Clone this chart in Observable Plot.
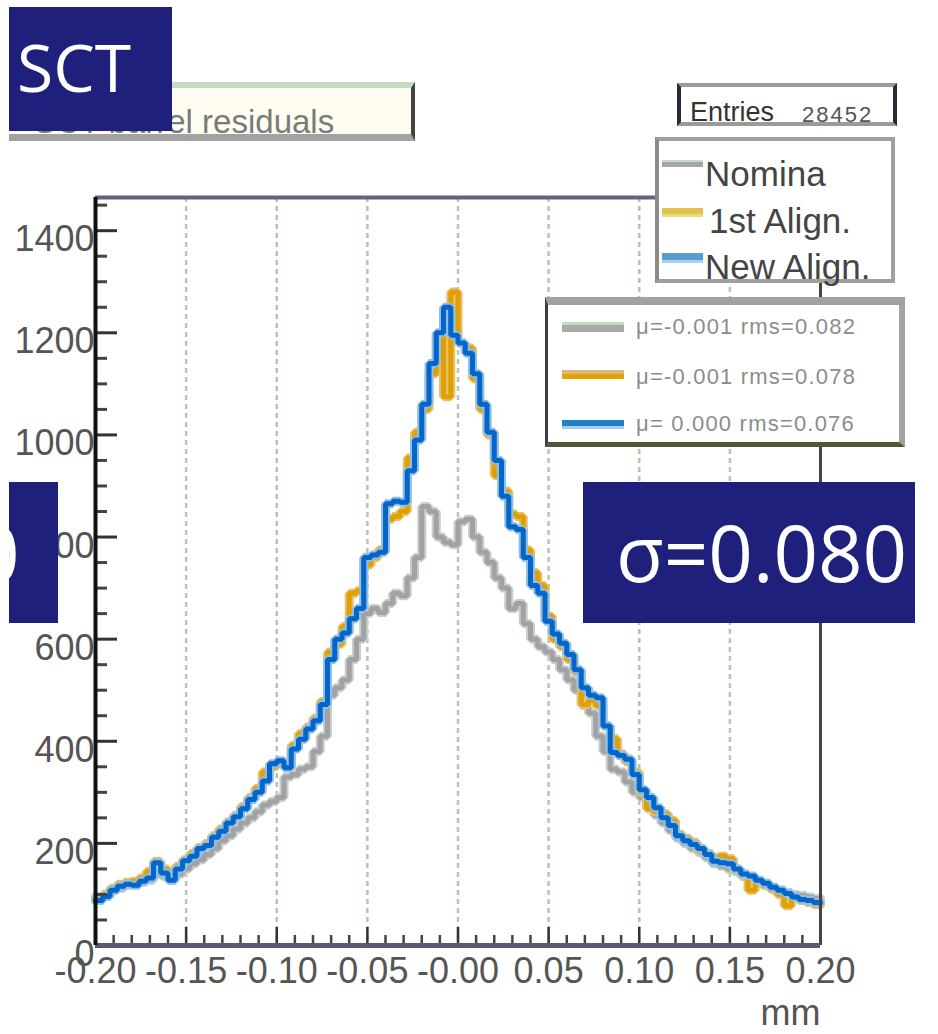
<!DOCTYPE html>
<html><head><meta charset="utf-8">
<script src="https://cdn.jsdelivr.net/npm/d3@7"></script>
<script src="https://cdn.jsdelivr.net/npm/@observablehq/plot@0.6"></script>
<style>
body{margin:0;background:#fff;}
#wrap{position:relative;width:938px;height:1034px;overflow:hidden;font-family:"Liberation Sans",Arial,sans-serif;}
#wrap svg{position:absolute;left:0;top:0;}
.abs{position:absolute;box-sizing:border-box;}
.navy{background:#1f1f7c;overflow:hidden;}
.big{font-family:"Open Sans",sans-serif;color:#fff;line-height:1;white-space:nowrap;position:absolute;}
.t{position:absolute;line-height:1;white-space:nowrap;}
</style></head><body>
<div id="wrap">
  <div class="abs" style="left:9px;top:82px;width:406px;height:59px;background:#fffdf1;border-top:6px solid #c4dcc4;border-right:4px solid #444;border-bottom:7px solid #a2a2a2;overflow:hidden;">
    <span class="t" style="left:25px;top:17px;font-size:33px;color:#7a7a7a;">SCT barrel residuals</span>
  </div>
  <div class="abs navy" style="left:9px;top:7px;width:163px;height:124px;">
    <span class="big" style="left:8px;top:26px;font-size:66px;">SCT</span>
  </div>
  <div class="abs" style="left:677px;top:83px;width:220px;height:43px;background:#fff;border-left:4px solid #2a2a3a;border-right:4px solid #2a2a3a;border-top:4px solid #9a9a9a;border-bottom:4px solid #9a9a9a;"></div>
  <span class="t" style="left:690px;top:99px;font-size:27px;color:#333;">Entries</span>
  <span class="t" style="left:802px;top:104px;font-size:22px;letter-spacing:2px;color:#555;">28452</span>

  <div class="abs" style="left:655px;top:137px;width:240px;height:146px;background:#fff;border:4px solid #a0a0a0;border-left-color:#8a8a8a;"></div>
  <div class="abs" style="left:662px;top:160px;width:41px;height:7px;background:#a6a6a6;border-top:2px solid #c4dcc4;"></div>
  <div class="abs" style="left:662px;top:208px;width:41px;height:9px;background:#e2c24a;border-bottom:3px solid #e4e080;"></div>
  <div class="abs" style="left:662px;top:253px;width:41px;height:10px;background:#5a9ccc;border-bottom:3px solid #a8d0f4;"></div>
  <span class="t" style="left:705px;top:156px;font-size:35px;color:#444;">Nomina</span>
  <span class="t" style="left:709px;top:203px;font-size:35px;color:#444;">1st Align.</span>
  <span class="t" style="left:705px;top:249px;font-size:35px;color:#444;">New Align.</span>

  <div class="abs" style="left:545px;top:297px;width:360px;height:150px;background:#fff;border-top:8px solid #a2a2a2;border-left:3px solid #3a3a48;border-bottom:5px solid #55553a;border-right:6px solid #a2a2a2;"></div>
  <div class="abs" style="left:562px;top:322px;width:62px;height:10px;background:#a8a8a8;border-top:3px solid #c4dcc4;"></div>
  <div class="abs" style="left:562px;top:370px;width:62px;height:9px;background:#e2a400;border-top:4px solid #dcb878;"></div>
  <div class="abs" style="left:562px;top:420px;width:62px;height:9px;background:#1e80c8;border-bottom:3px solid #a8ccf0;"></div>
  <span class="t" style="left:636px;top:316px;font-size:22px;letter-spacing:1.2px;color:#8c8c8c;">μ=-0.001 rms=0.082</span>
  <span class="t" style="left:636px;top:366px;font-size:22px;letter-spacing:1.2px;color:#8c8c8c;">μ=-0.001 rms=0.078</span>
  <span class="t" style="left:636px;top:413px;font-size:22px;letter-spacing:1.2px;color:#8c8c8c;">μ= 0.000 rms=0.076</span>

  <div class="abs navy" style="left:583px;top:482px;width:332px;height:141px;">
    <span class="big" style="left:33px;top:31px;font-size:78px;">σ=0.080</span>
  </div>
  <div class="abs navy" style="left:9px;top:482px;width:49px;height:141px;">
    <span class="big" style="left:-34px;top:31px;font-size:78px;">0</span>
  </div>
</div>
<script>
// ---- data (bins of 0.004 mm from -0.20 to 0.20) ----
const xMin = -0.2, xMax = 0.2, nBins = 100;
const nominal = [95,100,108,112,118,120,124,128,140,136,
  130,140,150,160,168,178,190,205,215,228,
  240,250,262,275,282,290,330,335,345,350,
  380,410,490,505,520,560,600,650,660,652,
  670,690,685,720,760,860,850,800,790,785,
  830,835,800,770,750,720,700,660,670,630,
  600,585,575,560,540,520,500,470,455,410,
  380,345,340,320,300,290,275,255,240,225,
  210,200,190,182,172,160,155,150,145,135,
  128,122,118,112,108,104,100,98,95,92];
const firstAlign = [92,100,112,120,124,126,132,145,165,150,
  140,155,168,180,192,200,215,228,242,255,
  272,290,308,340,350,358,352,392,415,428,
  445,478,575,590,625,690,695,745,760,775,
  835,840,850,955,1005,1050,1120,1195,1075,1280,
  1180,1170,1110,1050,1000,920,890,845,840,775,
  730,705,645,600,585,560,535,472,480,470,
  430,405,375,360,340,300,268,262,258,245,
  218,210,202,185,180,172,175,170,148,138,
  108,124,118,110,100,78,92,88,84,80];
const newAlign = [88,96,108,116,120,118,126,132,162,142,
  128,150,166,175,190,196,212,224,240,252,
  268,286,300,322,356,362,348,385,404,424,
  440,472,560,600,612,640,660,760,765,770,
  865,870,868,930,990,1060,1140,1200,1250,1195,
  1180,1160,1120,1060,1005,950,880,820,815,760,
  705,690,635,610,592,570,540,505,490,485,
  430,378,372,365,335,305,290,270,250,235,
  215,205,198,190,178,165,162,160,150,140,
  136,128,122,114,108,102,95,90,88,84];

const xTickValues = [-0.2,-0.15,-0.1,-0.05,0,0.05,0.1,0.15,0.2];
const xTickLabels = ["-0.20","-0.15","-0.10","-0.05","-0.00","0.05","0.10","0.15","0.20"];
const yTickValues = [0,200,400,600,800,1000,1200,1400];
const yTickLabels = ["0","200","400","600","800","1000","1200","1400"];
const gridValues = [-0.15,-0.1,-0.05,0,0.05,0.1,0.15];

// ---- build step tables ----
const binW = (xMax - xMin) / nBins;
function steps(vals, name) {
  const pts = vals.map((v, i) => ({x: xMin + i * binW, y: v, s: name}));
  pts.push({x: xMax, y: vals[vals.length - 1], s: name});
  return pts;
}
const gData = steps(nominal, "Nominal");
const oData = steps(firstAlign, "1st Align.");
const bData = steps(newAlign, "New Align.");

const yMinor = d3.range(50, 1500, 50).filter(v => v % 200 !== 0);
const xMinor = d3.range(-20, 21, 1).filter(v => v % 5 !== 0).map(v => v / 100);

const W = 938, H = 1034, mT = 197, mB = 89, mL = 95, mR = 118;
const fw = W - mL - mR, fh = H - mT - mB;

const chart = Plot.plot({
  width: W, height: H,
  marginTop: mT, marginBottom: mB, marginLeft: mL, marginRight: mR,
  x: {domain: [xMin, xMax], axis: null},
  y: {domain: [0, 1465], axis: null},
  style: {fontFamily: "'Liberation Sans', Arial, sans-serif", background: "transparent", overflow: "visible"},
  marks: [
    Plot.ruleX(gridValues, {stroke: "#b4c6b4", strokeWidth: 2.5, strokeDasharray: "5,4"}),
    // histograms (halo + core)
    Plot.line(gData, {x: "x", y: "y", curve: "step-after", stroke: "#c6cec6", strokeWidth: 9, strokeLinejoin: "miter"}),
    Plot.line(gData, {x: "x", y: "y", curve: "step-after", stroke: "#a2a2a6", strokeWidth: 5, strokeLinejoin: "miter"}),
    Plot.line(oData, {x: "x", y: "y", curve: "step-after", stroke: "#e6c070", strokeWidth: 9, strokeLinejoin: "miter"}),
    Plot.line(oData, {x: "x", y: "y", curve: "step-after", stroke: "#e0a000", strokeWidth: 5, strokeLinejoin: "miter"}),
    Plot.line(bData, {x: "x", y: "y", curve: "step-after", stroke: "#8cbfea", strokeWidth: 9, strokeLinejoin: "miter"}),
    Plot.line(bData, {x: "x", y: "y", curve: "step-after", stroke: "#0566c8", strokeWidth: 5, strokeLinejoin: "miter"}),
    // ticks
    Plot.tickY(yTickValues, {y: d => d, insetRight: fw - 22, stroke: "#333", strokeWidth: 3}),
    Plot.tickY(yMinor, {y: d => d, insetRight: fw - 12, stroke: "#444", strokeWidth: 3}),
    Plot.tickX(xTickValues, {x: d => d, insetTop: fh - 18, stroke: "#333", strokeWidth: 2.5}),
    Plot.tickX(xMinor, {x: d => d, insetTop: fh - 10, stroke: "#444", strokeWidth: 2.5}),
    // frame
    Plot.ruleY([1465], {stroke: "#62627e", strokeWidth: 4}),
    Plot.ruleX([xMax], {stroke: "#444", strokeWidth: 3}),
    Plot.ruleY([0], {stroke: "#5a5a74", strokeWidth: 5}),
    Plot.ruleX([xMin], {stroke: "#111", strokeWidth: 4}),
    // labels
    Plot.text(yTickValues, {x: xMin, y: d => d, text: (d, i) => yTickLabels[i], textAnchor: "end", dx: -1, dy: 9, fontSize: 36, fill: "#555"}),
    Plot.text(xTickValues, {x: d => d, y: 0, text: (d, i) => xTickLabels[i], dy: 26, fontSize: 36, fill: "#555"}),
    Plot.text(["mm"], {x: xMax, y: 0, text: d => d, textAnchor: "end", dy: 68, fontSize: 36, fill: "#555"})
  ]
});
const wrap = document.getElementById("wrap");
wrap.prepend(chart);
</script>
</body></html>
